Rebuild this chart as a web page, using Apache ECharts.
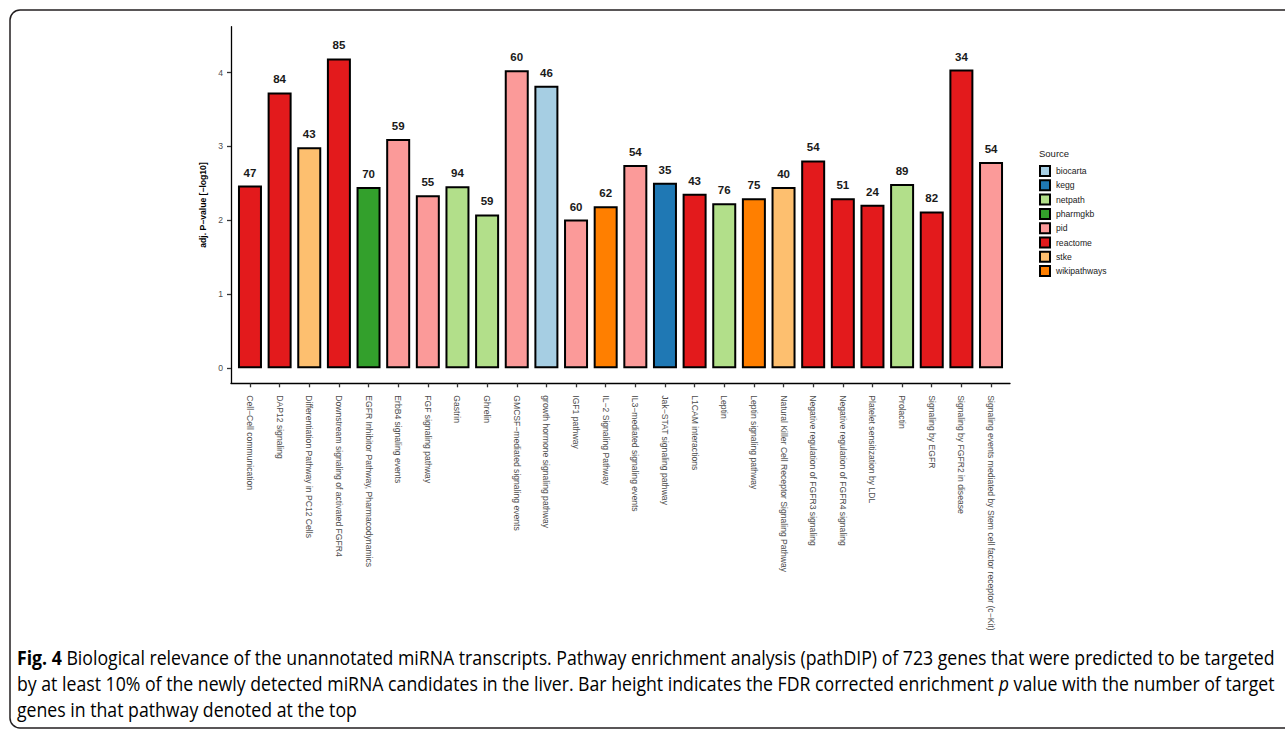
<!DOCTYPE html>
<html>
<head>
<meta charset="utf-8">
<title>Pathway enrichment of predicted miRNA targets</title>
<script src="https://cdn.jsdelivr.net/npm/echarts@6/dist/echarts.min.js"></script>
<style>
  html, body { margin: 0; padding: 0; background: #ffffff; }
  #chart { width: 1285px; height: 729px; }
</style>
</head>
<body>
<div id="chart"></div>
<script>
// Pathways, in axis order
const categories = [
  'Cell\u2212Cell communication',
  'DAP12 signaling',
  'Differentiation Pathway in PC12 Cells',
  'Downstream signaling of activated FGFR4',
  'EGFR Inhibitor Pathway, Pharmacodynamics',
  'ErbB4 signaling events',
  'FGF signaling pathway',
  'Gastrin',
  'Ghrelin',
  'GMCSF\u2212mediated signaling events',
  'growth hormone signaling pathway',
  'IGF1 pathway',
  'IL\u22122 Signaling Pathway',
  'IL3\u2212mediated signaling events',
  'Jak\u2212STAT signaling pathway',
  'L1CAM interactions',
  'Leptin',
  'Leptin signaling pathway',
  'Natural Killer Cell Receptor Signaling Pathway',
  'Negative regulation of FGFR3 signaling',
  'Negative regulation of FGFR4 signaling',
  'Platelet sensitization by LDL',
  'Prolactin',
  'Signaling by EGFR',
  'Signaling by FGFR2 in disease',
  'Signaling events mediated by Stem cell factor receptor (c\u2212Kit)'
];

// adj. P-value [-log10]
const pValues = [2.47, 3.73, 2.99, 4.19, 2.45, 3.10, 2.34, 2.46, 2.08, 4.03, 3.82, 2.01, 2.19,
                 2.75, 2.51, 2.36, 2.23, 2.30, 2.45, 2.81, 2.30, 2.21, 2.49, 2.12, 4.04, 2.79];

// number of target genes in each pathway
const geneCounts = [47, 84, 43, 85, 70, 59, 55, 94, 59, 60, 46, 60, 62,
                    54, 35, 43, 76, 75, 40, 54, 51, 24, 89, 82, 34, 54];

// source database of each pathway
const pathwaySources = ['reactome', 'reactome', 'stke', 'reactome', 'pharmgkb', 'pid', 'pid', 'netpath',
                        'netpath', 'pid', 'biocarta', 'pid', 'wikipathways', 'pid', 'kegg', 'reactome',
                        'netpath', 'wikipathways', 'stke', 'reactome', 'reactome', 'reactome', 'netpath',
                        'reactome', 'reactome', 'pid'];

const sourceNames = ['biocarta', 'kegg', 'netpath', 'pharmgkb', 'pid', 'reactome', 'stke', 'wikipathways'];
const sourceColors = ['#A6CEE3', '#1F78B4', '#B2DF8A', '#33A02C', '#FB9A99', '#E31A1C', '#FDBF6F', '#FF7F00'];

const yTicks = [0, 1, 2, 3, 4];
const xTicks = categories.map((c, i) => i);

const captionLines = [
  ['Fig. 4', ' Biological relevance of the unannotated miRNA transcripts. Pathway enrichment analysis (pathDIP) of 723 genes that were predicted to be targeted'],
  ['by at least 10% of the newly detected miRNA candidates in the liver. Bar height indicates the FDR corrected enrichment ', 'p', ' value with the number of target'],
  ['genes in that pathway denoted at the top']
];

const MINUS = '\u2212';

// one bar series per source; all series share the same slot on the axis
const series = sourceNames.map((src, k) => ({
  name: src,
  type: 'bar',
  barWidth: 24,
  barGap: '-100%',
  itemStyle: { color: sourceColors[k], borderColor: '#000000', borderWidth: 2 },
  label: {
    show: true,
    position: 'top',
    distance: 7,
    fontFamily: 'Liberation Sans, Arial, sans-serif',
    fontSize: 11.5,
    fontWeight: 'bold',
    color: '#1a1a1a',
    formatter: p => String(geneCounts[p.value[0]])
  },
  emphasis: { disabled: true },
  data: pValues
    .map((v, i) => [i, v])
    .filter(d => pathwaySources[d[0]] === src)
}));

// caption typeface: a humanist sans, compressed horizontally to a condensed width
const capFamily = '"Open Sans", "Noto Sans", sans-serif';
const capSize = 19.5;
const capWidth = 1258;
const measureCtx = document.createElement('canvas').getContext('2d');
function textWidth(str, weight) {
  measureCtx.font = (weight || 'normal') + ' ' + capSize + 'px ' + capFamily;
  return measureCtx.measureText(str).width;
}
const firstLineWidth = textWidth(captionLines[0][0], 'bold') + textWidth(captionLines[0][1]);
const capScale = capWidth / firstLineWidth;

const capRich = {
  n: { fontFamily: capFamily, fontSize: capSize, color: '#231f20' },
  b: { fontFamily: capFamily, fontSize: capSize, fontWeight: 'bold', color: '#231f20' },
  i: { fontFamily: capFamily, fontSize: capSize, fontStyle: 'italic', color: '#231f20' }
};
const capTexts = [
  '{b|' + captionLines[0][0] + '}{n|' + captionLines[0][1] + '}',
  '{n|' + captionLines[1][0] + '}{i|' + captionLines[1][1] + '}{n|' + captionLines[1][2] + '}',
  '{n|' + captionLines[2][0] + '}'
];
const capY = [657, 683, 709];

const chart = echarts.init(document.getElementById('chart'), null, { renderer: 'svg' });

chart.setOption({
  backgroundColor: '#ffffff',
  animation: false,
  grid: { left: 231, right: 275, top: 26.7, bottom: 345.7, containLabel: false },
  xAxis: {
    type: 'value',
    min: -0.64,
    max: 25.64,
    splitLine: { show: false },
    axisLine: { show: true, onZero: false, lineStyle: { color: '#000000', width: 1.3 } },
    axisTick: { show: true, length: 4, customValues: xTicks, lineStyle: { color: '#333333', width: 1.3 } },
    axisLabel: {
      customValues: xTicks,
      rotate: -90,
      margin: 12,
      fontFamily: 'Liberation Sans, Arial, sans-serif',
      fontSize: 8.6,
      color: '#4d4d4d',
      formatter: v => categories[Math.round(v)] || ''
    }
  },
  yAxis: {
    type: 'value',
    min: -0.205,
    max: 4.62,
    name: 'adj. P' + MINUS + 'value [' + MINUS + 'log10]',
    nameLocation: 'middle',
    nameGap: 24,
    nameRotate: 90,
    nameTextStyle: {
      fontFamily: 'Liberation Sans, Arial, sans-serif',
      fontSize: 8.6,
      fontWeight: 'bold',
      color: '#000000'
    },
    splitLine: { show: false },
    axisLine: { show: true, onZero: false, lineStyle: { color: '#000000', width: 1.3 } },
    axisTick: { show: true, length: 4, customValues: yTicks, lineStyle: { color: '#333333', width: 1.3 } },
    axisLabel: {
      customValues: yTicks,
      margin: 8,
      fontFamily: 'Liberation Sans, Arial, sans-serif',
      fontSize: 8.6,
      color: '#4d4d4d'
    }
  },
  legend: {
    show: true,
    orient: 'vertical',
    left: 1039,
    top: 165,
    padding: 0,
    itemWidth: 10,
    itemHeight: 10,
    itemGap: 2.3,
    icon: 'rect',
    selectedMode: false,
    itemStyle: { borderColor: '#000000', borderWidth: 2 },
    textStyle: { fontFamily: 'Liberation Sans, Arial, sans-serif', fontSize: 8.6, color: '#1a1a1a', padding: [0, 0, 0, 1] },
    data: sourceNames
  },
  graphic: [
    {
      type: 'text',
      left: 1039,
      top: 148,
      silent: true,
      style: { text: 'Source', font: '9.5px "Liberation Sans", Arial, sans-serif', fill: '#1a1a1a' }
    },
    {
      type: 'rect',
      silent: true,
      shape: { x: 10, y: 10, width: 1300, height: 718, r: 10 },
      style: { fill: 'none', stroke: '#231f20', lineWidth: 1.5 }
    }
  ].concat(capTexts.map((t, k) => ({
    type: 'text',
    x: 17,
    y: capY[k],
    scaleX: capScale,
    silent: true,
    style: { text: t, rich: capRich, verticalAlign: 'middle', align: 'left' }
  }))),
  series: series
});
</script>
</body>
</html>
